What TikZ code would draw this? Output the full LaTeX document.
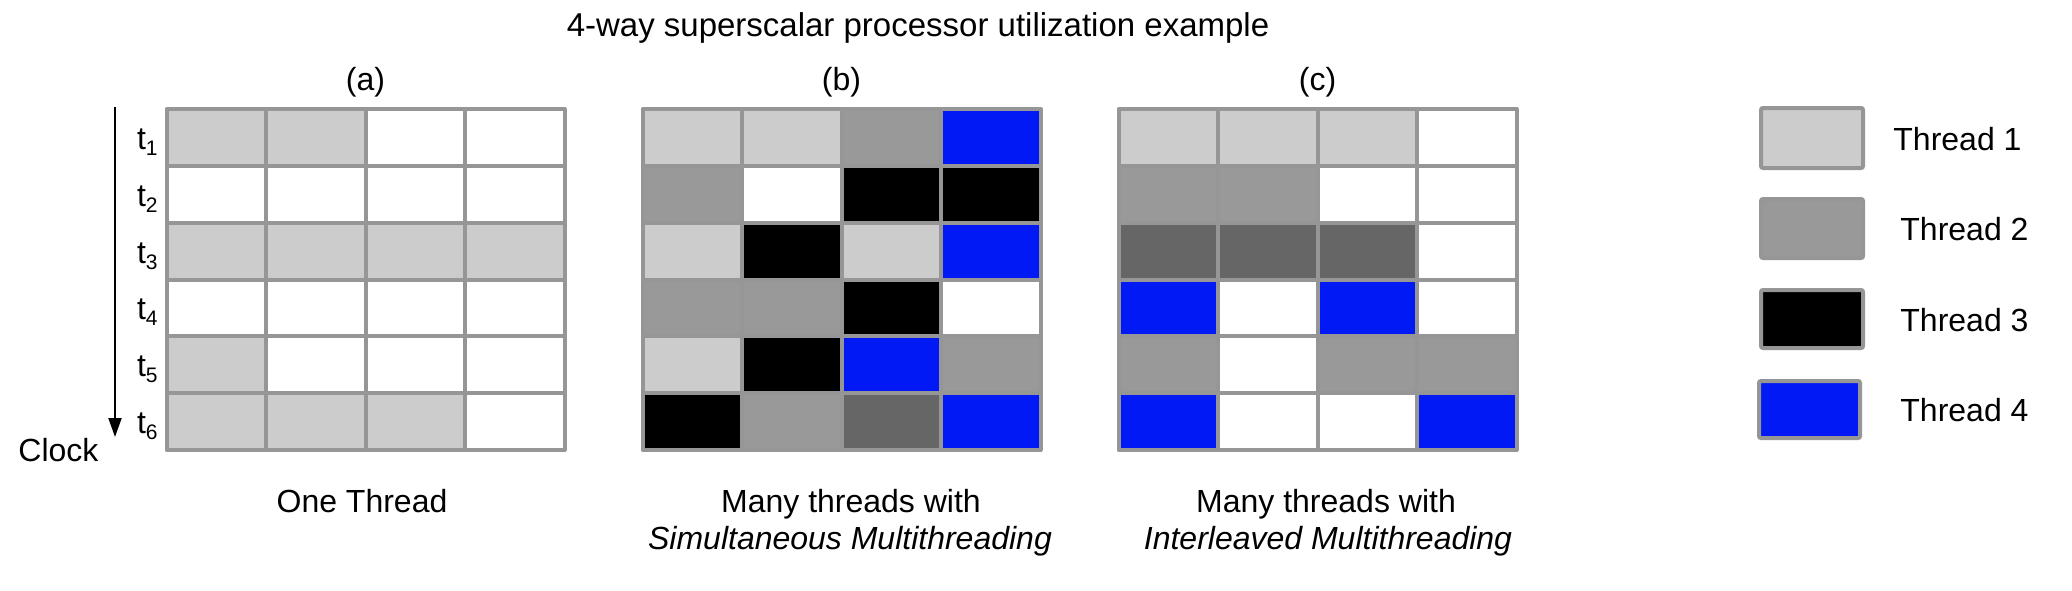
\documentclass[tikz,border=0pt]{standalone}
\usepackage{fontspec}
\setmainfont{Liberation Sans}
\usetikzlibrary{arrows.meta}
\definecolor{cL}{RGB}{204,204,204}
\definecolor{cM}{RGB}{153,153,153}
\definecolor{cD}{RGB}{102,102,102}
\definecolor{cK}{RGB}{0,0,0}
\definecolor{cB}{RGB}{0,25,245}
\definecolor{cW}{RGB}{255,255,255}
\definecolor{gridgray}{RGB}{150,150,150}
\newcommand\tlab[1]{t\raisebox{-3pt}{\fontsize{10.5}{11}\selectfont #1}}
\begin{document}
\begin{tikzpicture}[x=0.5pt,y=-0.5pt,
  txt/.style={inner sep=0pt,font=\fontsize{16}{19}\selectfont},
  gridline/.style={draw=gridgray,line width=2pt,line join=round},
  legbox/.style={draw=gridgray,line width=2pt,rounded corners=1pt}]
\useasboundingbox (0,0) rectangle (2072,590);
\fill[white] (0,0) rectangle (2072,590);
% title
\node[txt,anchor=base,font=\fontsize{16.5}{19}\selectfont] (title) at (918,36) {4-way superscalar processor utilization example};
% grids
\foreach \gx/\lab/\data in {
  166.5/a/{{L,L,W,W},{W,W,W,W},{L,L,L,L},{W,W,W,W},{L,W,W,W},{L,L,L,W}},
  642.5/b/{{L,L,M,B},{M,W,K,K},{L,K,L,B},{M,M,K,W},{L,K,B,M},{K,M,D,B}},
  1118.5/c/{{L,L,L,W},{M,M,W,W},{D,D,D,W},{B,W,B,W},{M,W,M,M},{B,W,W,B}}}{
  \foreach \row [count=\r] in \data {
    \foreach \c [count=\k] in \row {
      \fill[c\c] ({\gx+(\k-1)*99.5},{109+(\r-1)*56.833}) rectangle ++(99.5,56.833);
    }
  }
  \foreach \k in {1,2,3} \draw[gridline] ({\gx+\k*99.5},109) -- ++(0,341);
  \foreach \r in {1,...,5} \draw[gridline] (\gx,{109+\r*56.833}) -- ++(398,0);
  \draw[gridline] (\gx,109) rectangle ++(398,341);
  \node[txt,anchor=base] (lab\lab) at ({\gx+199},90) {(\lab)};
}
% time labels
\foreach \r in {1,...,6}
  \node[txt,anchor=base east] (t\r) at (158,{109+(\r-0.5)*56.833+12}) {\tlab{\r}};
% clock arrow
\coordinate (clkTop) at (115,107);
\coordinate (clkEnd) at (115,437);
\draw[line width=1pt,-{Triangle[length=9.5pt,width=6.5pt]}] (clkTop) -- (clkEnd);
\node[txt,anchor=base west] (clock) at (18,461) {Clock};
% captions
\node[txt,anchor=base] (capa) at (362,512) {One Thread};
\node[txt,anchor=base] (capb1) at (851,512) {Many threads with};
\node[txt,anchor=base] (capb2) at (850,549) {\itshape Simultaneous Multithreading};
\node[txt,anchor=base] (capc1) at (1326,512) {Many threads with};
\node[txt,anchor=base] (capc2) at (1328,549) {\itshape Interleaved Multithreading};
% legend
\draw[legbox,fill=cL] (1761,108) rectangle (1863,168);
\draw[legbox,fill=cM] (1761,199) rectangle (1863,258);
\draw[legbox,fill=cK] (1761,290) rectangle (1863,348);
\draw[legbox,fill=cB] (1759,381) rectangle (1860,438);
\node[txt,anchor=base west] (leg1) at (1893,150) {Thread 1};
\node[txt,anchor=base west] (leg2) at (1900,240) {Thread 2};
\node[txt,anchor=base west] (leg3) at (1900,331) {Thread 3};
\node[txt,anchor=base west] (leg4) at (1900,421) {Thread 4};
\end{tikzpicture}
\end{document}
